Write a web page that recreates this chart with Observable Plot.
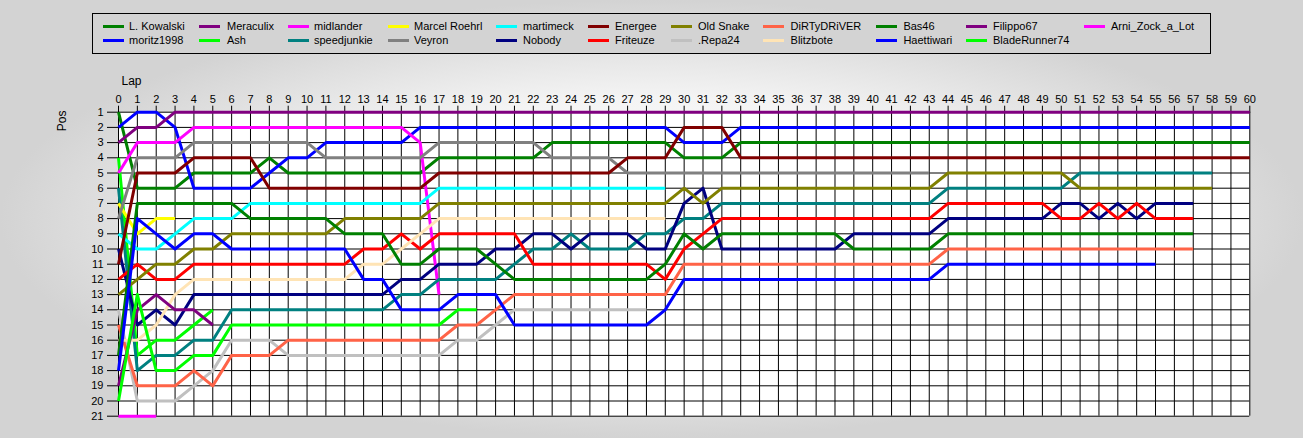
<!DOCTYPE html>
<html><head><meta charset="utf-8">
<script src="https://cdn.jsdelivr.net/npm/d3@7"></script>
<script src="https://cdn.jsdelivr.net/npm/@observablehq/plot@0.6"></script>
<style>
html,body{margin:0;padding:0;}
body{width:1303px;height:438px;overflow:hidden;position:relative;font-family:"Liberation Sans",Arial,sans-serif;
 background:radial-gradient(ellipse farthest-side at 50% 50%, #ffffff 0%, #f4f4f4 55%, #d3d3d3 100%);}
#legend{position:absolute;left:92px;top:13px;width:1119px;height:41px;border:1px solid #000;box-sizing:border-box;background:#d3d3d3;}
.sw{position:absolute;width:21px;height:3px;}
.lt{position:absolute;font-size:11px;line-height:13px;white-space:nowrap;color:#000;}
#chart{position:absolute;left:0;top:60px;}
</style></head><body>
<div id="legend"></div>
<div id="chart"></div>
<script>
// Drivers (legend order, column-major) and colours
const drivers = ["L. Kowalski","moritz1998","Meraculix","Ash","midlander","speedjunkie","Marcel Roehrl","Veyron","martimeck","Nobody","Energee","Friteuze","Old Snake",".Repa24","DiRTyDRiVER","Blitzbote","Bas46","Haettiwari","Filippo67","BladeRunner74","Arni_Zock_a_Lot"];
const colors = ["#008000","#0000FF","#800080","#00FF00","#FF00FF","#008080","#FFFF00","#808080","#00FFFF","#000080","#800000","#FF0000","#808000","#C0C0C0","#FF6347","#FFE4B5","#008000","#0000FF","#800080","#00FF00","#FF00FF"];

// Position per lap (index = lap, starting at lap 0)
const kowalski = [1,6,6,6,5,5,5,5,4,5, 5,5,5,5,5,5,5,4,4,4, 4,4,4,3,3,3,3,3,3,3, 4,4,4,3,3,3,3,3,3,3, 3,3,3,3,3,3,3,3,3,3, 3,3,3,3,3,3,3,3,3,3, 3];
const moritz = [2,1,1,2,6,6,6,6,5,4, 4,3,3,3,3,3,2,2,2,2, 2,2,2,2,2,2,2,2,2,2, 3,3,3,2,2,2,2,2,2,2, 2,2,2,2,2,2,2,2,2,2, 2,2,2,2,2,2,2,2,2,2, 2];
const meraculix = [3,2,2,1,1,1,1,1,1,1, 1,1,1,1,1,1,1,1,1,1, 1,1,1,1,1,1,1,1,1,1, 1,1,1,1,1,1,1,1,1,1, 1,1,1,1,1,1,1,1,1,1, 1,1,1,1,1,1,1,1,1,1, 1];
const ash = [4,17,16,16,15,14];
const midlander = [5,3,3,3,2,2,2,2,2,2, 2,2,2,2,2,2,3,13];
const speedjunkie = [6,18,17,17,16,16,14,14,14,14, 14,14,14,14,14,13,13,12,12,12, 12,11,10,10,9,10,10,10,9,9, 8,8,7,7,7,7,7,7,7,7, 7,7,7,7,6,6,6,6,6,6, 6,5,5,5,5,5,5,5,5];
const roehrl = [7,9,8,8];
const veyron = [8,4,4,4,3,3,3,3,3,3, 3,4,4,4,4,4,4,3,3,3, 3,3,3,4,4,4,4,5,5,5, 5,5,5,5,5,5,5,5,5,5, 5,5,5,5];
const martimeck = [9,10,10,9,8,8,8,7,7,7, 7,7,7,7,7,7,7,6,6,6, 6,6,6,6,6,6,6,6,6,6];
const nobody = [10,15,14,15,13,13,13,13,13,13, 13,13,13,13,13,12,12,11,11,11, 10,10,9,9,10,9,9,9,10,10, 7,6,10,10,10,10,10,10,10,9, 9,9,9,9,8,8,8,8,8,8, 7,7,8,7,8,7,7,7];
const energee = [11,5,5,5,4,4,4,4,6,6, 6,6,6,6,6,6,6,5,5,5, 5,5,5,5,5,5,5,4,4,4, 2,2,2,4,4,4,4,4,4,4, 4,4,4,4,4,4,4,4,4,4, 4,4,4,4,4,4,4,4,4,4, 4];
const friteuze = [12,11,12,12,11,11,11,11,11,11, 11,11,11,10,10,9,10,9,9,9, 9,9,11,11,11,11,11,11,11,12, 10,9,8,8,8,8,8,8,8,8, 8,8,8,8,7,7,7,7,7,7, 8,8,7,8,7,8,8,8];
const oldSnake = [13,12,11,11,10,10,9,9,9,9, 9,9,8,8,8,8,8,7,7,7, 7,7,7,7,7,7,7,7,7,7, 6,7,6,6,6,6,6,6,6,6, 6,6,6,6,5,5,5,5,5,5, 5,6,6,6,6,6,6,6,6];
const repa24 = [14,20,20,20,19,18,16,16,16,17, 17,17,17,17,17,17,17,17,16,16, 15,14,14,14,14,14,14,14,14];
const dirtyDriver = [15,19,19,19,18,19,17,17,17,16, 16,16,16,16,16,16,16,16,15,15, 14,13,13,13,13,13,13,13,13,13, 11,11,11,11,11,11,11,11,11,11, 11,11,11,11,10,10,10,10,10,10, 10,10,10,10,10,10,10,10];
const blitzbote = [16,16,15,13,12,12,12,12,12,12, 12,12,12,11,11,10,9,8,8,8, 8,8,8,8,8,8,8,8,8,8];
const bas46 = [17,7,7,7,7,7,7,8,8,8, 8,8,9,9,9,11,11,10,10,10, 11,12,12,12,12,12,12,12,12,11, 9,10,9,9,9,9,9,9,9,10, 10,10,10,10,9,9,9,9,9,9, 9,9,9,9,9,9,9,9];
const haettiwari = [18,8,9,10,9,9,10,10,10,10, 10,10,10,12,12,14,14,14,13,13, 13,15,15,15,15,15,15,15,15,14, 12,12,12,12,12,12,12,12,12,12, 12,12,12,12,11,11,11,11,11,11, 11,11,11,11,11,11];
const filippo = [19,14,13,14,14,15];
const bladeRunner = [20,13,18,18,17,17,15,15,15,15, 15,15,15,15,15,15,15,15,14,14];
const arni = [21,21,21];

const series = [kowalski,moritz,meraculix,ash,midlander,speedjunkie,roehrl,veyron,martimeck,nobody,energee,friteuze,oldSnake,repa24,dirtyDriver,blitzbote,bas46,haettiwari,filippo,bladeRunner,arni];

// Tick labels
const lapTicks = d3.range(0, 61);
const posTicks = d3.range(1, 22);

// Legend layout (column-major: two rows)
const legendCols = [[102.5,129],[199,227],[287.5,314],[387.5,414],[496,523],[588,615],[670.7,698],[763,790.6],[875.7,903.4],[965.6,993],[1084,1111]];
const rowY = [26, 40.5];
const leg = document.getElementById("legend");
drivers.forEach((name, i) => {
  const col = Math.floor(i / 2), row = i % 2;
  const [sx, tx] = legendCols[col];
  const sw = document.createElement("div");
  sw.className = "sw";
  sw.style.left = (sx - 93) + "px";
  sw.style.top = (rowY[row] - 14 - 1.5) + "px";
  sw.style.background = colors[i];
  leg.appendChild(sw);
  const t = document.createElement("div");
  t.className = "lt";
  t.style.left = (tx - 93) + "px";
  t.style.top = (rowY[row] - 14 - 6.5) + "px";
  t.textContent = name;
  leg.appendChild(t);
});

const rows = [];
series.forEach((s, i) => s.forEach((p, lap) => rows.push({driver: drivers[i], lap, pos: p})));

const W = 1303, H = 378, top0 = 60;
const xL = 118, xR = 1249.3, yT = 111.7, yB = 415.7;
const chart = Plot.plot({
  width: W, height: H,
  marginLeft: xL, marginRight: W - xR, marginTop: yT - top0, marginBottom: H - (yB - top0),
  style: {background: "transparent", fontFamily: "'Liberation Sans', Arial, sans-serif", fontSize: "11px", color: "#000", overflow: "visible"},
  x: {domain: [0, 60]},
  y: {domain: [1, 21], reverse: true},
  color: {domain: drivers, range: colors},
  marks: [
    Plot.frame({fill: "white", stroke: "none"}),
    Plot.gridX(lapTicks, {stroke: "#000", strokeOpacity: 1}),
    Plot.gridY(posTicks, {stroke: "#000", strokeOpacity: 1}),
    Plot.axisX(lapTicks, {anchor: "top", tickSize: 7, tickPadding: 2, label: null, tickFormat: d => String(d), fontSize: 11}),
    Plot.axisY(posTicks, {anchor: "left", tickSize: 11, tickPadding: 4, label: null, tickFormat: d => String(d), fontSize: 11}),
    Plot.line(rows, {x: "lap", y: "pos", z: "driver", stroke: "driver", strokeWidth: 3, strokeLinejoin: "round", strokeLinecap: "butt"}),
    Plot.text(["Lap"], {text: d => d, frameAnchor: "top-left", dx: 3, dy: -36, textAnchor: "start", fontSize: 12}),
    Plot.text(["Pos"], {text: d => d, frameAnchor: "top-left", dx: -61, dy: 19, rotate: -90, fontSize: 12})
  ]
});
document.getElementById("chart").appendChild(chart);
</script>
</body></html>
